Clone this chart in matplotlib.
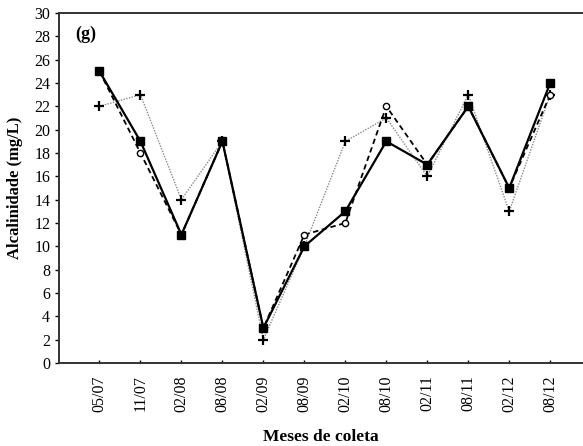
import matplotlib

matplotlib.use("Agg")
import matplotlib.pyplot as plt

plt.rcParams["font.family"] = ["Liberation Serif", "DejaVu Serif"]

# Sampling months and alkalinity readings (mg/L) for the three stations
months = ["05/07", "11/07", "02/08", "08/08", "02/09", "08/09",
          "02/10", "08/10", "02/11", "08/11", "02/12", "08/12"]
station_a = [25, 19, 11, 19, 3, 10, 13, 19, 17, 22, 15, 24]
station_b = [25, 18, 11, 19, 3, 11, 12, 22, 17, 22, 15, 23]
station_c = [22, 23, 14, 19, 2, 10, 19, 21, 16, 23, 13, 23]

fig = plt.figure(figsize=(5.83, 4.46), dpi=100)
ax = fig.add_axes([58.5 / 583, 83 / 446, (583 - 58.5) / 583, 350 / 446])

x = list(range(len(months)))
ax.plot(x, station_c, color="#8a8a8a", linestyle=(0, (1, 1)), linewidth=1.0,
        marker="+", markersize=7, markeredgewidth=1.6, markeredgecolor="black",
        zorder=2)
ax.plot(x, station_b, color="black", linestyle=(0, (3, 2)), linewidth=1.3,
        marker="o", markersize=4.5, markerfacecolor="white",
        markeredgecolor="black", markeredgewidth=1.0, zorder=3)
ax.plot(x, station_a, color="black", linestyle="-", linewidth=1.6,
        marker="s", markersize=6, markerfacecolor="black", zorder=4)

ax.set_xlim(-1, 11.8)
ax.set_ylim(0, 30)
ax.set_yticks(range(0, 31, 2))
ax.set_xticks(x)
ax.set_xticklabels(months, rotation=90, fontsize=11.5)
ax.tick_params(axis="y", direction="out", length=3, width=1, labelsize=11.5, pad=3)
ax.tick_params(axis="x", direction="in", length=2.5, width=1, pad=9)

for side in ["left", "bottom", "top"]:
    ax.spines[side].set_linewidth(1.4)
    ax.spines[side].set_color("#333333")
ax.spines["right"].set_visible(False)

ax.set_ylabel("Alcalinidade (mg/L)", fontsize=12, fontweight="bold", labelpad=8)
ax.set_xlabel("Meses de coleta", fontsize=12.5, fontweight="bold", labelpad=12)
ax.text(-0.6, 28.2, "(g)", fontsize=13, fontweight="bold", va="center", ha="left")

fig.savefig("out.png", dpi=100)
